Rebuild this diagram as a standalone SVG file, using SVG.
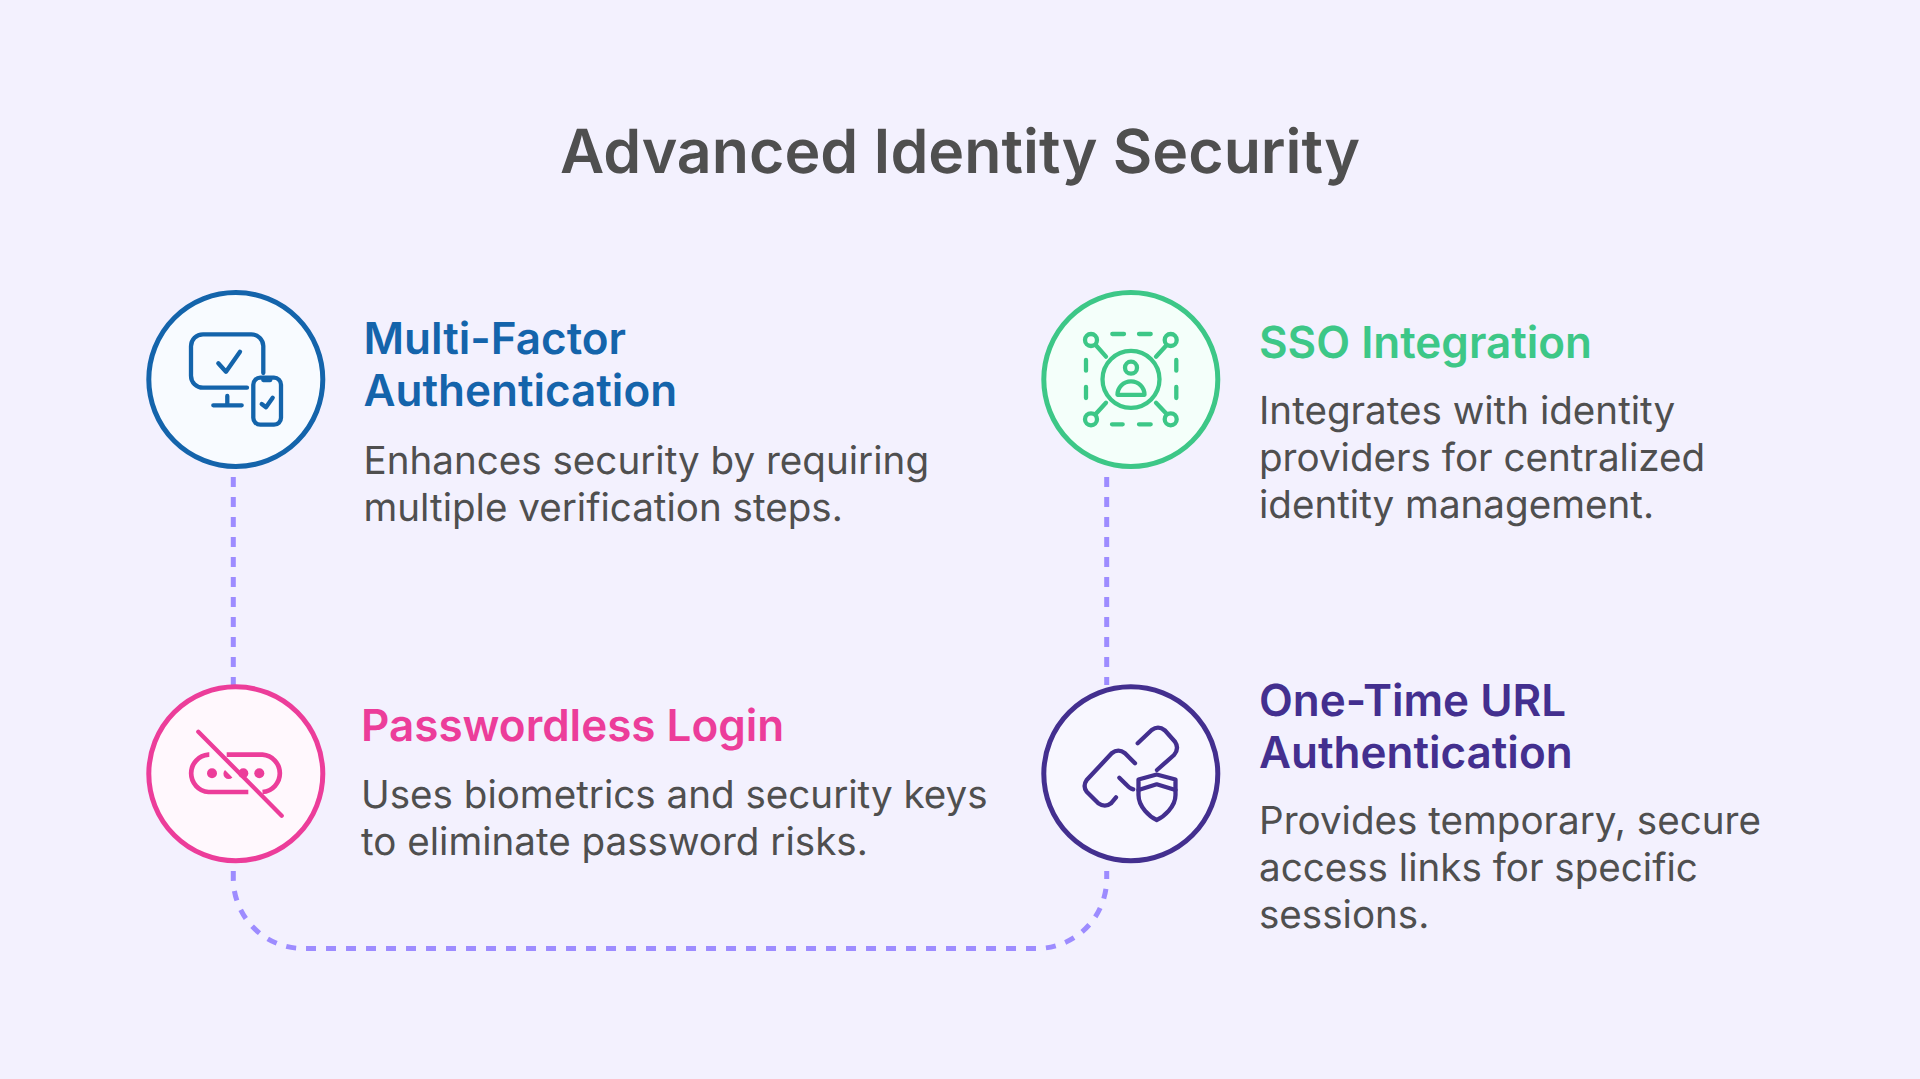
<svg xmlns="http://www.w3.org/2000/svg" width="1920" height="1079" viewBox="0 0 1920 1079">
<style>
text{font-family:Inter,"Liberation Sans",sans-serif;text-rendering:geometricPrecision}
.t{font-size:60.800px;font-weight:600;fill:#4f4f4f}
.h{font-size:44px;font-weight:600}
.b{font-size:38.600px;font-weight:400;fill:#4f4f4f}
.i{fill:none;stroke-width:4.300;stroke-linecap:round;stroke-linejoin:round}
.c{stroke-width:5}
.conn{fill:none;stroke:#9d8cff;stroke-width:5;stroke-dasharray:10 10}
</style>
<rect width="1920" height="1079" fill="#f3f1fe"/>
<text class="t" x="960" y="173" text-anchor="middle">Advanced Identity Security</text>
<g id="connectors">
<path class="conn" d="M233.3 477V685"/>
<path class="conn" d="M1106.7 477V685"/>
<path class="conn" d="M233.3 871V878.5A70 70 0 0 0 303.3 948.5H1036.7A70 70 0 0 0 1106.7 878.5V871"/>
</g>
<g id="node-mfa">
<circle class="c" cx="235.8" cy="379.5" r="87" fill="#f8fbff" stroke="#1464ab"/>
<g class="i" stroke="#1464ab">
<path d="M263.3 373V346A12 12 0 0 0 251.300 334.300H203A12 12 0 0 0 191 346.300V375.700A12 12 0 0 0 203 387.700H247"/>
<path d="M218.300 363.300L226 371.700L240 351.700"/>
<path d="M227.300 396V405.300M213.300 405.300H241.700"/>
<rect x="253.300" y="377.700" width="27.700" height="47" rx="7"/>
<path d="M263.300 380H270.300"/>
<path d="M261.700 404L266 407.300L272.700 397.700"/>
</g>
<text class="h" fill="#1464ab" x="363.500" y="354">Multi-Factor</text>
<text class="h" fill="#1464ab" x="363.500" y="406">Authentication</text>
<text class="b" x="363.500" y="474">Enhances security by requiring</text>
<text class="b" x="363.500" y="521">multiple verification steps.</text>
</g>
<g id="node-sso">
<circle class="c" cx="1130.8" cy="379.5" r="87" fill="#f4fffa" stroke="#3dc787"/>
<g class="i" stroke="#3dc787">
<circle cx="1131" cy="379.300" r="28.500"/>
<circle cx="1131" cy="367.700" r="6"/>
<path d="M1117.500 394.800A13.500 13.500 0 0 1 1144.500 394.800Z"/>
<circle cx="1091" cy="340" r="6"/>
<circle cx="1170.700" cy="340" r="6"/>
<circle cx="1091" cy="419.300" r="6"/>
<circle cx="1170.700" cy="419.300" r="6"/>
<path d="M1095.700 345L1106 356.700M1166.700 345L1156 356.700M1106 402.700L1095.700 414M1156 402.700L1166.700 414"/>
<path d="M1112.300 334H1124M1139 334H1150.700M1112 424.300H1122.700M1139 424.300H1150.700M1086 360V370.700M1086 387V398M1176.300 360V370.700M1176.300 387V398"/>
</g>
<text class="h" fill="#3dc787" x="1259" y="358">SSO Integration</text>
<text class="b" x="1259" y="424">Integrates with identity</text>
<text class="b" x="1259" y="471">providers for centralized</text>
<text class="b" x="1259" y="518">identity management.</text>
</g>
<g id="node-passwordless">
<circle class="c" cx="235.8" cy="773.8" r="87" fill="#fff8fd" stroke="#ec3d9a"/>
<g class="i" stroke="#ec3d9a">
<path d="M198.300 731.700L281.700 815.700"/>
<path stroke-width="4.700" stroke-linecap="butt" d="M209.300 754.700H208.500A18.700 18.700 0 0 0 208.500 792H248.300M226.700 754.700H262.500A18.700 18.700 0 0 1 262.500 792"/>
</g>
<g fill="#ec3d9a">
<circle cx="212" cy="773.300" r="5"/>
<path d="M225 770L232.400 777.500A5.200 5.200 0 0 1 225 770Z"/>
<circle cx="243.300" cy="773.300" r="5"/>
<circle cx="259.300" cy="773.300" r="5"/>
</g>
<text class="h" fill="#ec3d9a" x="361" y="741">Passwordless Login</text>
<text class="b" x="361" y="808">Uses biometrics and security keys</text>
<text class="b" x="361" y="855">to eliminate password risks.</text>
</g>
<g id="node-url">
<circle class="c" cx="1130.8" cy="773.8" r="87" fill="#f8f7ff" stroke="#432f8f"/>
<g class="i" stroke="#432f8f">
<path d="M1137.700 743.300L1151.700 730Q1158.300 725 1165 730.500L1175 741.700Q1179.500 748.300 1174 755L1157 770"/>
<path d="M1135 763.300L1125 753.300Q1118.300 748 1111.700 753.300L1086.700 780Q1082.500 786 1086.700 791.700L1098.300 803.300Q1105 808 1111 803.300L1116 797.300"/>
<path d="M1119.300 777.700L1126.700 785Q1129.500 788.500 1133.300 789.300"/>
<path d="M1156.700 774.500L1138.500 779.500V795C1138.500 807 1150 817 1156.700 820C1163.500 817 1175.500 807 1175.500 795V779.500Z"/>
<path d="M1138.500 790L1156.700 784.300L1175.500 790"/>
</g>
<text class="h" fill="#432f8f" x="1259" y="716">One-Time URL</text>
<text class="h" fill="#432f8f" x="1259" y="768">Authentication</text>
<text class="b" x="1259" y="834">Provides temporary, secure</text>
<text class="b" x="1259" y="881">access links for specific</text>
<text class="b" x="1259" y="928">sessions.</text>
</g>
</svg>
